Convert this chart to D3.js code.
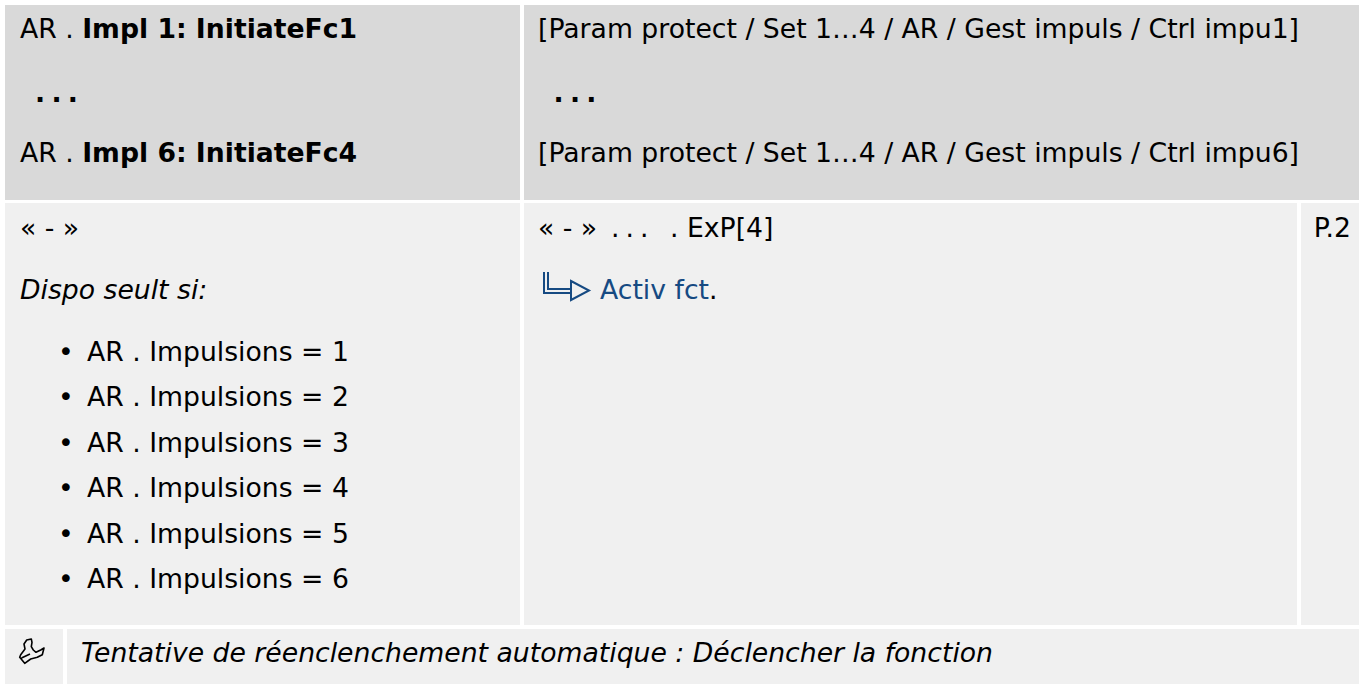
<!DOCTYPE html>
<html>
<head>
<meta charset="utf-8">
<script src="https://cdnjs.cloudflare.com/ajax/libs/d3/7.8.5/d3.min.js"></script>
<style>
html, body { margin: 0; background: #fff; }
svg { display: block; }
text { font-family: "DejaVu Sans"; font-size: 26.67px; fill: #000; white-space: pre; }
</style>
</head>
<body>
<div class="table"></div>
<script>
const w = 1368;
const h = 684;

const headerLeft = ["Impl 1: InitiateFc1", "Impl 6: InitiateFc4"];
const headerRight = ["[Param protect / Set 1…4 / AR / Gest impuls / Ctrl impu1]", "[Param protect / Set 1…4 / AR / Gest impuls / Ctrl impu6]"];
const impulsions = [1, 2, 3, 4, 5, 6];
const description = "Tentative de réenclenchement automatique : Déclencher la fonction";

const svg = d3.select(".table")
  .append("svg")
  .attr("width", w)
  .attr("height", h);

// table cells: x0, x1, y0, y1, fill
const cells = [
  [5, 520, 5, 200, "#d9d9d9"],
  [524, 1359, 5, 200, "#d9d9d9"],
  [5, 520, 203, 625, "#f0f0f0"],
  [524, 1297, 203, 625, "#f0f0f0"],
  [1301, 1359, 203, 625, "#f0f0f0"],
  [5, 63, 629, 684, "#f0f0f0"],
  [67, 1359, 629, 684, "#f0f0f0"]
];

svg.selectAll("rect")
  .data(cells)
  .enter().append("rect")
  .attr("x", d => d[0])
  .attr("y", d => d[2])
  .attr("width", d => d[1] - d[0])
  .attr("height", d => d[3] - d[2])
  .attr("fill", d => d[4]);

const headerY = d3.scalePoint().domain([0, 1]).range([38, 162]);

// left header
const hl = svg.append("g").selectAll("text")
  .data(headerLeft)
  .enter().append("text")
  .attr("x", 20)
  .attr("y", (d, i) => headerY(i));
hl.append("tspan").text("AR . ");
hl.append("tspan").attr("font-weight", "bold").text(d => d);

svg.append("g").selectAll("text")
  .data(headerRight)
  .enter().append("text")
  .attr("x", 538)
  .attr("y", (d, i) => headerY(i))
  .text(d => d);

// bold dots between the header lines
svg.append("g").selectAll("text")
  .data([35, 553.5])
  .enter().append("text")
  .attr("x", d => d)
  .attr("y", 102)
  .attr("font-weight", "bold")
  .attr("word-spacing", "-3px")
  .text(". . .");

// body
svg.append("text").attr("x", 20).attr("y", 237).text("« - »");
svg.append("text").attr("x", 20).attr("y", 299).attr("font-style", "italic").text("Dispo seult si:");

const listY = d3.scalePoint().domain(impulsions).range([361, 588]);

svg.append("g").selectAll("text")
  .data(impulsions)
  .enter().append("text")
  .attr("x", 87)
  .attr("y", d => listY(d))
  .text(d => "AR . Impulsions = " + d);

svg.append("g").selectAll("text")
  .data(impulsions)
  .enter().append("text")
  .attr("x", 58)
  .attr("y", d => listY(d))
  .text("•");

svg.append("text").attr("x", 538).attr("y", 237).text("« - »");
svg.append("text").attr("x", 611).attr("y", 237).attr("word-spacing", "-2.5px").text(". . .");
svg.append("text").attr("x", 670).attr("y", 237).text(". ExP[4]");
svg.append("text").attr("x", 1351).attr("y", 237).attr("text-anchor", "end").text("P.2");

// link arrow
const blue = "#164a82";
const arrow = svg.append("g").attr("fill", "none").attr("stroke", blue).attr("stroke-width", 2);
arrow.append("path").attr("d", "M544 272V293H571");
arrow.append("path").attr("d", "M548 272V289H571");
arrow.append("path").attr("d", "M571 281L589 290.5L571 300Z");

const link = svg.append("text").attr("x", 600).attr("y", 299);
link.append("tspan").attr("style", "fill:" + blue).text("Activ fct");
link.append("tspan").text(".");

// wrench icon
svg.append("path")
  .attr("d", "M31.3 639L26.7 640L24 644L25 649L20.7 654.7L19.7 657.3L24.7 663.3L30.7 659L37.3 657.3L42.3 654.7L44 648L40.7 650L36 652.3L33.3 650L31.3 646.7L32 642.3ZM21.5 658L30 654")
  .attr("fill", "none")
  .attr("stroke", "#000")
  .attr("stroke-width", 1.6)
  .attr("stroke-linejoin", "round");

svg.append("text")
  .attr("x", 81)
  .attr("y", 662)
  .attr("font-style", "italic")
  .text(description);
</script>
</body>
</html>
